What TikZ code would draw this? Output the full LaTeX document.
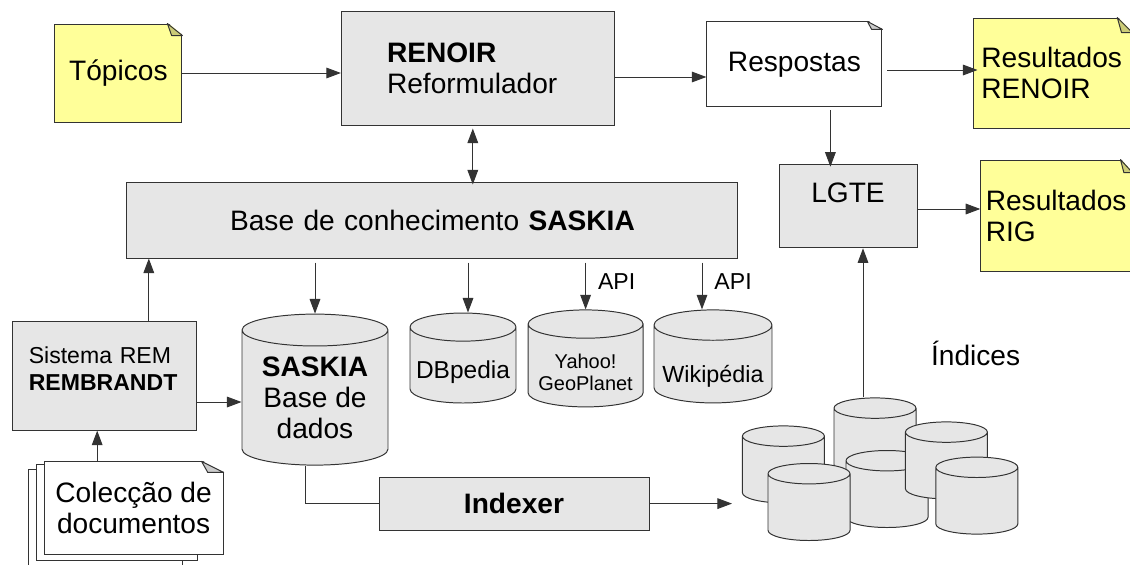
\documentclass[tikz,border=0pt]{standalone}
\usepackage{fontspec}
\setmainfont{Liberation Sans}
\usepackage{xcolor}
\usetikzlibrary{arrows.meta,shapes.geometric,calc}
\definecolor{rnyellow}{HTML}{FFFF99}
\definecolor{rnolive}{HTML}{CCCC77}
\definecolor{rngray}{HTML}{E6E6E6}
\definecolor{rncyl}{HTML}{CCCCCC}
\definecolor{rnedge}{HTML}{333333}
\newcommand\rnmain{\fontsize{20}{22}\selectfont}
\newcommand\rnsmall{\fontsize{16.4}{19.2}\selectfont}
% folded corner on a note: node, fill, width, height (cm)
\newcommand\rnfold[4]{%
  \fill[white] ([shift={(-#3,0.03)}]#1.north east) -- ([shift={(0.03,0.03)}]#1.north east)
     -- ([shift={(0.03,-#4)}]#1.north east) -- cycle;
  \draw[rnedge, line width=0.7pt, fill=#2, line join=round] ([shift={(-#3,0)}]#1.north east)
     -- ([shift={(-0.72*#3,-#4)}]#1.north east) -- ([shift={(0,-#4)}]#1.north east) -- cycle;}
\tikzset{
  rnbox/.style   = {rectangle, draw=rnedge, fill=rngray, line width=0.7pt,
                    font=\rnmain, inner sep=0pt},
  rnnote/.style  = {rectangle, draw=rnedge, fill=rnyellow, line width=0.7pt,
                    font=\rnmain, align=left, inner sep=0pt},
  rnpage/.style  = {rectangle, draw=rnedge, fill=white, line width=0.7pt,
                    font=\rnmain, align=center, inner sep=0pt},
  rndb/.style    = {cylinder, shape border rotate=90, aspect=0.3, draw=rnedge,
                    fill=rngray, line width=0.7pt, align=center, inner sep=0pt},
  rnidx/.style   = {rndb, cylinder uses custom fill, cylinder body fill=rncyl,
                    cylinder end fill=rngray, text width=1.7cm,
                    minimum width=2.05cm, minimum height=1.925cm},
  rnline/.style  = {draw=rnedge, line width=0.7pt},
  rnflow/.style  = {rnline, -{Triangle[length=10.4pt,width=7.6pt]}},
  rnboth/.style  = {rnline, {Triangle[length=10.4pt,width=7.6pt]}-{Triangle[length=10.4pt,width=7.6pt]}},
  rnlbl/.style   = {font=\rnsmall, inner sep=0pt},
}
\begin{document}
\begin{tikzpicture}
  \path[use as bounding box, clip] (0,0) rectangle (28.25,-14.1);

  % query side
  \node[rnnote, minimum width=3.175cm, minimum height=2.45cm, align=center] (topics) at (2.96,-1.825) {Tópicos};
  \node[rnbox, minimum height=2.85cm, text width=4.55cm, inner xsep=1.14cm, align=left] (renoir) at (11.95,-1.70) {\textbf{RENOIR}\\Reformulador};
  \node[rnpage, minimum width=4.375cm, minimum height=2.125cm] (resp) at (19.86,-1.61) {Respostas};
  \node[rnnote, minimum height=2.75cm, text width=3.55cm, inner xsep=0.21cm] (resRenoir) at (26.31,-1.825) {Resultados\\RENOIR};
  \node[rnbox, minimum width=3.45cm, inner ysep=0.475cm, text depth=0.65cm] (lgte) at (21.2,-5.15) {LGTE};
  \node[rnnote, minimum height=2.775cm, text width=3.53cm, inner xsep=0.125cm] (resRig) at (26.41,-5.39) {Resultados\\RIG};
  \rnfold{topics}{rnolive}{0.375}{0.3}
  \rnfold{resp}{rncyl}{0.375}{0.2}
  \rnfold{resRenoir}{rnolive}{0.375}{0.375}
  \rnfold{resRig}{rnolive}{0.3}{0.325}

  % knowledge base and sources
  \node[rnbox, minimum height=1.9cm, text width=10.075cm, inner xsep=2.6cm, align=left] (kb) at (10.79,-5.5) {\mbox{Base de conhecimento \textbf{SASKIA}}};
  \node[rnbox, minimum height=2.725cm, text width=3.8cm, inner xsep=0.4cm, text depth=1.03cm, align=left, font=\rnsmall] (rem) at (2.62,-9.39) {Sistema REM\\\textbf{REMBRANDT}};
  \node[rndb, minimum width=3.65cm, minimum height=3.775cm, anchor=shape center, font=\rnmain] (saskiaDb) at (7.875,-9.74) {\textbf{SASKIA}\\Base de\\dados};
  \node[rndb, minimum width=2.65cm, minimum height=2.25cm, text height=0.8cm, anchor=shape center, font=\fontsize{17.4}{20}\selectfont] (dbpedia) at (11.575,-8.95) {DBpedia};
  \node[rndb, minimum width=2.875cm, minimum height=2.425cm, anchor=shape center, font=\fontsize{14.2}{15.6}\selectfont] (yahoo) at (14.64,-8.96) {\rule{0pt}{0.71cm}Yahoo!\\GeoPlanet};
  \node[rndb, minimum width=2.95cm, minimum height=2.325cm, text height=1.04cm, anchor=shape center, font=\fontsize{16.6}{19}\selectfont] (wiki) at (17.825,-8.91) {Wikipédia};

  % document collection
  \draw[rnline, fill=white] (0.7,-11.725) rectangle (4.55,-14.4);
  \draw[rnline, fill=white] (0.9,-11.6) rectangle (4.925,-14.0);
  \node[rnpage, minimum width=4.475cm, minimum height=2.325cm] (docs) at (3.34,-12.71) {Colecção de\\documentos};
  \rnfold{docs}{rncyl}{0.55}{0.275}

  \node[rnbox, minimum width=6.75cm, minimum height=1.325cm, font=\rnmain\bfseries] (indexer) at (12.85,-12.59) {Indexer};

  % indexes
  \node[rnidx, anchor=shape center] (idxA) at (19.585,-11.61) {};
  \node[rnidx, anchor=shape center] (idxB) at (21.875,-10.91) {};
  \node[rnidx, anchor=shape center] (idxE) at (22.175,-12.225) {};
  \node[rnidx, anchor=shape center] (idxC) at (23.66,-11.51) {};
  \node[rnidx, anchor=shape center] (idxD) at (20.225,-12.55) {};
  \node[rnidx, anchor=shape center] (idxF) at (24.42,-12.39) {};
  \node[font=\rnmain, anchor=base] (idxLbl) at (24.39,-9.125) {Índices};
  \coordinate (idxIn) at (18.3,-12.59);

  \draw[rnflow] (topics.east) -- (topics.east -| renoir.west);
  \draw[rnflow] ([yshift=-0.225cm]renoir.east) -- ([yshift=-0.225cm]renoir.east -| resp.west);
  \draw[rnflow] ([shift={(0.125,-0.14)}]resp.east) -- ([shift={(0.125,-0.14)}]resp.east -| resRenoir.west);
  \draw[rnflow] ([shift={(0.9,-0.075)}]resp.south) -- ([shift={(0.9,-0.075)}]resp.south |- lgte.north);
  \draw[rnflow] ([yshift=-0.075cm]lgte.east) -- ([yshift=-0.075cm]lgte.east -| resRig.west);
  \draw[rnboth] ([shift={(-0.13,-0.075)}]renoir.south) -- ([shift={(-0.13,-0.075)}]renoir.south |- kb.north);
  \draw[rnflow] ([yshift=-0.1cm]kb.south -| saskiaDb.top) -- (saskiaDb.top);
  \draw[rnflow] ([shift={(0.125,-0.1)}]kb.south -| dbpedia.top) -- ([xshift=0.125cm]dbpedia.top);
  \draw[rnflow] ([yshift=-0.1cm]kb.south -| yahoo.top) -- node[rnlbl, right=0.3cm, pos=0.4] (api1) {API} (yahoo.top);
  \draw[rnflow] ([shift={(-0.275,-0.1)}]kb.south -| wiki.top) -- node[rnlbl, right=0.3cm, pos=0.4] (api2) {API} ([xshift=-0.275cm]wiki.top);
  \draw[rnflow] ([xshift=1.1cm]rem.north) -- ([xshift=1.1cm]rem.north |- kb.south);
  \draw[rnflow] ([yshift=-0.66cm]rem.east) -- ([yshift=-0.66cm]rem.east -| saskiaDb.west);
  \draw[rnflow] ([xshift=-0.91cm]docs.north) -- ([xshift=-0.91cm]docs.north |- rem.south);
  \draw[rnline] ([xshift=-0.23cm]saskiaDb.bottom) |- (indexer.west);
  \draw[rnflow] (indexer.east) -- (idxIn);
  \draw[rnflow] ([xshift=-0.3cm]idxB.top) -- ([xshift=-0.3cm]idxB.top |- lgte.south);
\end{tikzpicture}
\end{document}
